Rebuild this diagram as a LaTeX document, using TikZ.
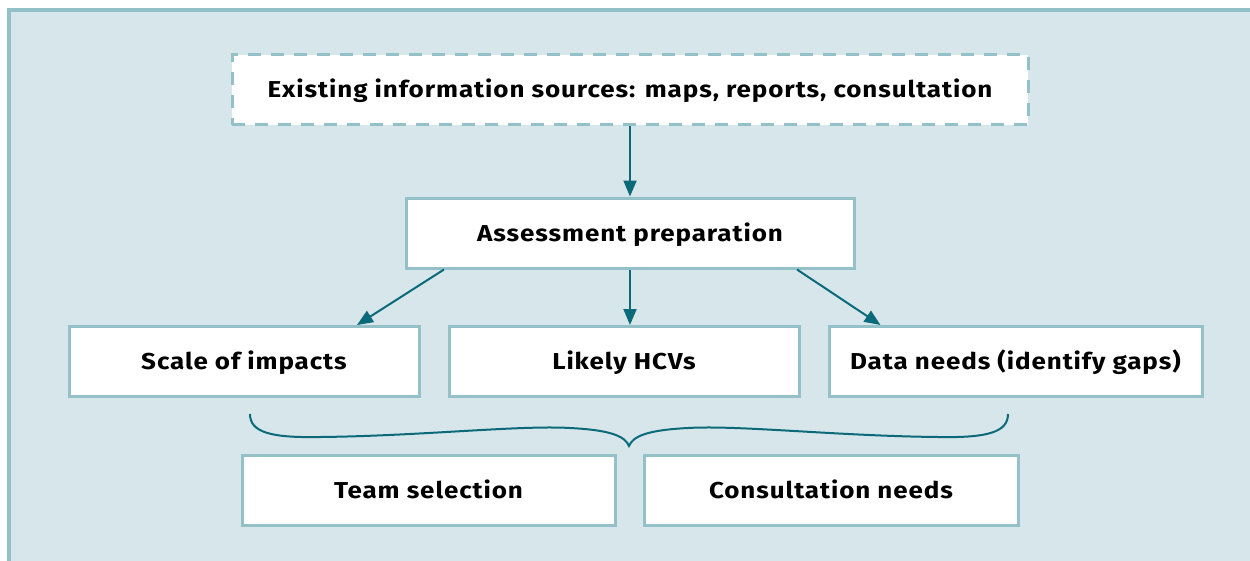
\documentclass[tikz,border=0pt]{standalone}
\usepackage{fontspec}
\setmainfont{Fira Sans}
\newfontfamily\boxfont[LetterSpace=4, FakeStretch=1.13]{Fira Sans}
\usetikzlibrary{arrows.meta}
\definecolor{framec}{HTML}{94C1C8}
\definecolor{bgc}{HTML}{D7E6EA}
\definecolor{teal}{HTML}{0B6A7A}
\tikzset{
  box/.style={draw=framec, line width=3pt, fill=white, minimum height=70pt, inner sep=0pt,
    text height=16pt, text depth=0pt,
    font=\boxfont\fontsize{23}{26}\selectfont\bfseries, text=black},
  dbox/.style={box, dash pattern=on 13pt off 10pt},
  conn/.style={draw=teal, line width=2pt, -{Triangle[length=16pt,width=13pt]}},
  bracec/.style={draw=teal, line width=2pt}
}
\begin{document}
\begin{tikzpicture}[x=1pt,y=-1pt]
\useasboundingbox (0,0) rectangle (1250,560);
\fill[white] (0,0) rectangle (1250,560);
\draw[framec, fill=bgc, line width=4pt] (9,10) rectangle (1270,580);
\node[dbox, minimum width=796pt] (src) at (630,89.5) {Existing information sources: maps, reports, consultation};
\node[box, minimum width=448pt] (prep) at (630,233) {Assessment preparation};
\node[box, minimum width=350pt] (scale) at (244,361.5) {Scale of impacts};
\node[box, minimum width=350pt] (hcv) at (624,361.5) {Likely HCVs};
\node[box, minimum width=373pt] (data) at (1015.5,361.5) {Data needs (identify gaps)};
\node[box, minimum width=373pt] (team) at (428.5,490) {Team selection};
\node[box, minimum width=374pt] (cons) at (831,490) {Consultation needs};
\draw[conn] (src.south) -- (prep.north);
\draw[conn] ([xshift=-186pt]prep.south) -- ([xshift=113pt]scale.north);
\draw[conn] (prep.south) -- (prep.south |- hcv.north);
\draw[conn] ([xshift=167pt]prep.south) -- ([xshift=-135pt]data.north);
\coordinate (bl) at (250,414);
\coordinate (br) at (1008,414);
\coordinate (bt) at (629,446);
\draw[bracec] (bl) .. controls (250,432) and (270,438) .. (320,437)
  .. controls (420,436) and (520,425) .. (570,428)
  .. controls (610,430) and (625,436) .. (bt)
  .. controls (633,436) and (648,430) .. (688,428)
  .. controls (738,425) and (838,436) .. (938,437)
  .. controls (988,438) and (1008,432) .. (br);
\end{tikzpicture}
\end{document}
